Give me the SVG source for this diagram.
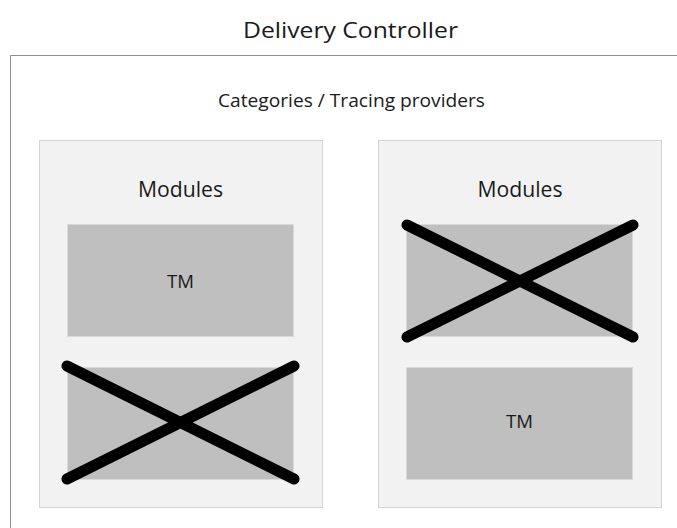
<svg xmlns="http://www.w3.org/2000/svg" width="677" height="528" viewBox="0 0 677 528">
<style>
text{font-family:"Open Sans","Liberation Sans",Arial,sans-serif;fill:#1a1a1a;text-anchor:middle}
.panel{fill:#f2f2f2;stroke:#d4d4d4;stroke-width:1}
.tm{fill:#bfbfbf;stroke:#d9d9d9;stroke-width:1}
.x{stroke:#000;stroke-width:11;stroke-linecap:round;fill:none}
</style>
<rect width="677" height="528" fill="#fff"/>
<g id="delivery-controller">
<path d="M677 55.5H10.5V528" fill="none" stroke="#8f8f8f" stroke-width="1"/>
<text x="350.5" y="38" font-size="22.5" textLength="215" lengthAdjust="spacingAndGlyphs">Delivery Controller</text>
<text x="351.5" y="107" font-size="17.5" textLength="267" lengthAdjust="spacingAndGlyphs">Categories / Tracing providers</text>
</g>
<g id="panel-left">
<rect class="panel" x="39.5" y="140.5" width="283" height="367"/>
<text x="180.5" y="197" font-size="21" textLength="85" lengthAdjust="spacingAndGlyphs">Modules</text>
</g>
<g id="tm-left-top">
<rect class="tm" x="67.5" y="224.5" width="226" height="112"/>
<text x="180.5" y="288" font-size="19" textLength="27" lengthAdjust="spacingAndGlyphs">TM</text>
</g>
<g id="tm-left-bottom">
<rect class="tm" x="67.5" y="367.5" width="226" height="112"/>
</g>
<g id="panel-right">
<rect class="panel" x="378.5" y="140.5" width="283" height="367"/>
<text x="520" y="197" font-size="21" textLength="85" lengthAdjust="spacingAndGlyphs">Modules</text>
</g>
<g id="tm-right-top">
<rect class="tm" x="406.5" y="224.5" width="226" height="112"/>
</g>
<g id="tm-right-bottom">
<rect class="tm" x="406.5" y="367.5" width="226" height="112"/>
<text x="519.5" y="428" font-size="19" textLength="27" lengthAdjust="spacingAndGlyphs">TM</text>
</g>
<g id="crosses">
<path class="x" d="M67 366L294 479M67 479L294 366"/>
<path class="x" d="M407 225L633 337M407 337L633 225"/>
</g>
</svg>
